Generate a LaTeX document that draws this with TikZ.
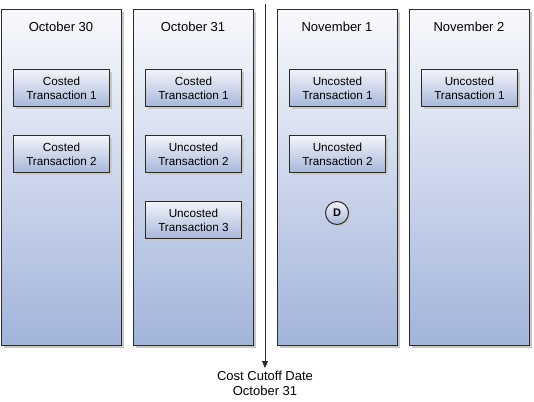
\documentclass[tikz,border=0pt]{standalone}
\usepackage{fontspec}
\setmainfont{Liberation Sans}
\usetikzlibrary{arrows.meta}
\definecolor{colbot}{HTML}{A2B4DB}
\definecolor{coltop}{HTML}{F8F9FC}
\definecolor{boxbot}{HTML}{A8B8DB}
\definecolor{boxtop}{HTML}{F2F4F9}
\definecolor{edge}{HTML}{2B2B2B}
\definecolor{shade}{HTML}{C8C8C8}
\tikzset{
  x=1pt, y=-1pt,
  column/.style={draw=edge, line width=1.1pt, top color=coltop, bottom color=colbot, minimum width=120pt, minimum height=336pt, anchor=north west, inner sep=0pt},
  colshadow/.style={fill=shade, draw=none, minimum width=120pt, minimum height=336pt, anchor=north west, inner sep=0pt},
  txbox/.style={draw=edge, line width=1pt, top color=boxtop, bottom color=boxbot, minimum width=96pt, minimum height=37pt, anchor=north west, inner sep=0pt, align=center, font=\fontsize{11.7}{13.7}\selectfont},
  txshadow/.style={fill=shade, draw=none, minimum width=96pt, minimum height=37pt, anchor=north west, inner sep=0pt},
  header/.style={font=\fontsize{13}{15}\selectfont, anchor=center},
  dcircle/.style={circle, draw=edge, line width=1pt, top color=boxtop, bottom color=boxbot, minimum size=23pt, inner sep=0pt, font=\fontsize{11}{13}\selectfont\bfseries},
  dshadow/.style={circle, fill=shade, minimum size=23pt, inner sep=0pt},
  cutoff/.style={line width=1pt, draw=edge, -{Triangle[length=7pt,width=6pt]}},
}
\begin{document}
\begin{tikzpicture}
\useasboundingbox (0,0) rectangle (534,401);
% columns
\foreach \cx/\nm in {1/c1,133/c2,277/c3,409/c4}{
  \node[colshadow] at (\cx+3,9+3) {};
  \node[column] (\nm) at (\cx,9) {};
}
\node[header] (h1) at (61,27) {October 30};
\node[header] (h2) at (193,27) {October 31};
\node[header] (h3) at (337,27) {November 1};
\node[header] (h4) at (469,27) {November 2};
% boxes
\foreach \bx/\by/\nm/\txt in {
  13/69/b11/{Costed\\Transaction 1},
  13/135/b12/{Costed\\Transaction 2},
  145/69/b21/{Costed\\Transaction 1},
  145/135/b22/{Uncosted\\Transaction 2},
  145/201/b23/{Uncosted\\Transaction 3},
  289/69/b31/{Uncosted\\Transaction 1},
  289/135/b32/{Uncosted\\Transaction 2},
  421/69/b41/{Uncosted\\Transaction 1}}{
  \node[txshadow] at (\bx+3,\by+3) {};
  \node[txbox] (\nm) at (\bx,\by) {\txt};
}
% D marker
\node[dshadow] at (339,215) {};
\node[dcircle] (d) at (337,213) {D};
% cutoff line
\coordinate (top) at (265,4);
\node[font=\fontsize{13}{15}\selectfont, align=center, anchor=north] (lbl) at (265,368) {Cost Cutoff Date\\October 31};
\draw[cutoff] (top) -- (lbl.north);
\end{tikzpicture}
\end{document}
